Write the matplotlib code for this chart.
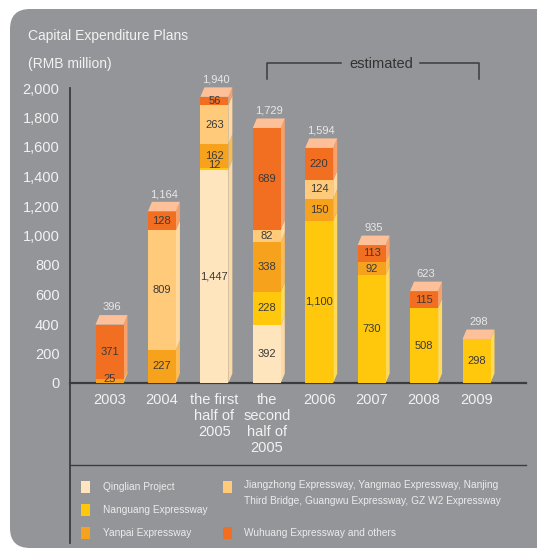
import matplotlib
import numpy as np

matplotlib.use("Agg")
import matplotlib.pyplot as plt
from matplotlib.patches import FancyBboxPatch, Rectangle

plt.rcParams["font.family"] = ["Liberation Sans", "DejaVu Sans"]

# ---- data ----
periods = ["2003", "2004", "the first\nhalf of\n2005", "the\nsecond\nhalf of\n2005",
           "2006", "2007", "2008", "2009"]
series_names = [
    "Qinglian Project",
    "Nanguang Expressway",
    "Yanpai Expressway",
    "Jiangzhong Expressway, Yangmao Expressway, Nanjing\nThird Bridge, Guangwu Expressway, GZ W2 Expressway",
    "Wuhuang Expressway and others",
]
qinglian = [0, 0, 1447, 392, 0, 0, 0, 0]
nanguang = [0, 0, 12, 228, 1100, 730, 508, 298]
yanpai = [25, 227, 162, 338, 150, 92, 0, 0]
jiangzhong = [0, 809, 263, 82, 124, 0, 0, 0]
wuhuang = [371, 128, 56, 689, 220, 113, 115, 0]
totals = [396, 1164, 1940, 1729, 1594, 935, 623, 298]
yticks = [0, 200, 400, 600, 800, 1000, 1200, 1400, 1600, 1800, 2000]

series = [qinglian, nanguang, yanpai, jiangzhong, wuhuang]
front_colors = ["#FFE5BD", "#FFC80C", "#F7A21C", "#FFCB7B", "#F26F22"]
side_colors = ["#FCD9A6", "#FFD95A", "#FBBC55", "#FFD9A0", "#F7A06A"]
top_color = "#FDC099"
panel_color = "#939598"
light_text = "#F2F2F2"
dark_text = "#3A3A3A"

W, H = 537, 549
fig = plt.figure(figsize=(W / 100, H / 100), dpi=100)
fig.patch.set_facecolor("white")

# overlay in pixel coords (y downwards)
ov = fig.add_axes([0, 0, 1, 1])
ov.set_xlim(0, W)
ov.set_ylim(H, 0)
ov.axis("off")
ov.add_patch(FancyBboxPatch((10, 9), 560, 539, boxstyle="round,pad=0,rounding_size=20",
                            fc=panel_color, ec="none"))

# chart axes: y=0 at px 383, 2000 at px 88; bar centres 109.5 + 52.43*i
y0_px, top_px = 383, 40
px_per_unit = 295 / 2000
step = 52.43
left_px, right_px = 70, 526
ax = fig.add_axes([left_px / W, (H - y0_px) / H, (right_px - left_px) / W, (y0_px - top_px) / H])
ax.set_xlim((left_px - 109.5) / step, (right_px - 109.5) / step)
ax.set_ylim(0, (y0_px - top_px) / px_per_unit)
ax.patch.set_alpha(0)
for s in ax.spines.values():
    s.set_visible(False)

x = np.arange(len(periods))
bw = 28 / step
dx = 4 / step
dy = 9.5 / px_per_unit

bottom = np.zeros(len(periods))
for vals, fc, sc in zip(series, front_colors, side_colors):
    vals = np.array(vals, dtype=float)
    ax.bar(x, vals, bw, bottom=bottom, color=fc, lw=0, zorder=2)
    for i, v in enumerate(vals):
        if v <= 0:
            continue
        xr = x[i] + bw / 2
        b, t = bottom[i], bottom[i] + v
        ax.fill([xr, xr + dx, xr + dx, xr], [b, b + dy, t + dy, t], color=sc, lw=0, zorder=1)
        ly = b + v / 2 if v >= 40 else b + 30
        ax.text(x[i], ly, f"{int(v):,}", ha="center", va="center", fontsize=8,
                color=dark_text, zorder=4)
    bottom += vals

for i, tot in enumerate(totals):
    x0, x1 = x[i] - bw / 2, x[i] + bw / 2
    ax.fill([x0, x0 + dx, x1 + dx, x1], [tot, tot + dy, tot + dy, tot], color=top_color, lw=0, zorder=3)
    ax.text(x[i] + dx / 2, tot + dy + 52, f"{tot:,}", ha="center", va="center", fontsize=8,
            color="#E8E8E8", zorder=4)

ax.set_yticks(yticks, [f"{v:,}" for v in yticks])
ax.set_xticks(x, periods)
ax.tick_params(axis="y", length=0, pad=7.5, labelsize=10.5, labelcolor=light_text)
ax.tick_params(axis="x", length=0, pad=7, labelsize=10.5, labelcolor=light_text)
for lab in ax.get_xticklabels():
    lab.set_linespacing(1.2)

# axis lines
line_c = "#3C3C3E"
ov.plot([70, 70], [88, 543], color=line_c, lw=1.3)
ov.plot([70, 526], [383, 383], color=line_c, lw=1.6)
ov.plot([70, 526], [465, 465], color=line_c, lw=1.0)

# titles
ov.text(28, 36, "Capital Expenditure Plans", fontsize=10, color=light_text, va="center", ha="left")
ov.text(28, 64, "(RMB million)", fontsize=10, color=light_text, va="center", ha="left")

# estimated bracket
ov.plot([267, 267, 341], [79, 63, 63], color=line_c, lw=1.1)
ov.plot([420, 479, 479], [63, 63, 79], color=line_c, lw=1.1)
ov.text(381, 64, "estimated", fontsize=10.5, color="#333333", ha="center", va="center")

# legend
leg_pos = [(81, 487, 103), (81, 510, 103), (81, 533, 103), (223, 487, 244), (223, 533, 244)]
for (sx, sy, tx), name, fc in zip(leg_pos, series_names, front_colors):
    ov.add_patch(Rectangle((sx, sy - 6), 9, 12, fc=fc, ec="none"))
    va = "top" if "\n" in name else "center"
    ty = sy - 7 if "\n" in name else sy
    ov.text(tx, ty, name, fontsize=7.3, color="#ECECEC", ha="left", va=va, linespacing=1.75)

fig.savefig("out.png", dpi=100, facecolor="white")
